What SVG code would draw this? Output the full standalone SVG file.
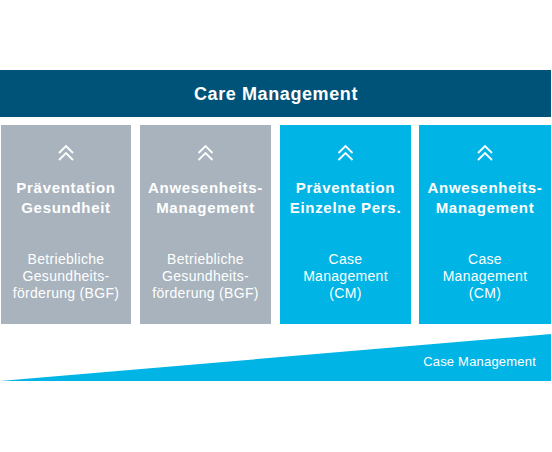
<svg xmlns="http://www.w3.org/2000/svg" width="552" height="452" viewBox="0 0 552 452">
<style>
.t{font-family:"Liberation Sans",Arial,sans-serif;font-weight:bold;font-size:15px;fill:#fff;text-anchor:middle;letter-spacing:0.7px}
.s{font-family:"Liberation Sans",Arial,sans-serif;font-size:14px;fill:#fff;text-anchor:middle;letter-spacing:0.3px}
.g{fill:#A8B3BD}
.b{fill:#00B5E6}
.ch{fill:none;stroke:#fff;stroke-width:1.8}
</style>
<defs>
<path id="chev" class="ch" d="M-7,6 L0,-1 L7,6 M-7,13 L0,6 L7,13"/>
</defs>
<rect width="552" height="452" fill="#fff"/>
<g id="top">
<rect x="0" y="70" width="551" height="47" fill="#005378"/>
<text x="276" y="100" font-family="Liberation Sans,Arial,sans-serif" font-weight="bold" font-size="18" fill="#fff" text-anchor="middle" letter-spacing="0.6">Care Management</text>
</g>
<g id="box1">
<rect class="g" x="1" y="125" width="130" height="199"/>
<use href="#chev" x="66" y="147"/>
<text class="t" x="66" y="193">Präventation</text>
<text class="t" x="66" y="213">Gesundheit</text>
<text class="s" x="66" y="264">Betriebliche</text>
<text class="s" x="66" y="281">Gesundheits-</text>
<text class="s" x="66" y="298">förderung (BGF)</text>
</g>
<g id="box2">
<rect class="g" x="140" y="125" width="131" height="199"/>
<use href="#chev" x="205.5" y="147"/>
<text class="t" x="205.5" y="193">Anwesenheits-</text>
<text class="t" x="205.5" y="213">Management</text>
<text class="s" x="205.5" y="264">Betriebliche</text>
<text class="s" x="205.5" y="281">Gesundheits-</text>
<text class="s" x="205.5" y="298">förderung (BGF)</text>
</g>
<g id="box3">
<rect class="b" x="280" y="125" width="131" height="199"/>
<use href="#chev" x="345.5" y="147"/>
<text class="t" x="345.5" y="193">Präventation</text>
<text class="t" x="345.5" y="213">Einzelne Pers.</text>
<text class="s" x="345.5" y="264">Case</text>
<text class="s" x="345.5" y="281">Management</text>
<text class="s" x="345.5" y="298">(CM)</text>
</g>
<g id="box4">
<rect class="b" x="419" y="125" width="132" height="199"/>
<use href="#chev" x="485" y="147"/>
<text class="t" x="485" y="193">Anwesenheits-</text>
<text class="t" x="485" y="213">Management</text>
<text class="s" x="485" y="264">Case</text>
<text class="s" x="485" y="281">Management</text>
<text class="s" x="485" y="298">(CM)</text>
</g>
<g id="wedge">
<polygon class="b" points="0,381 551,334 551,381"/>
<text class="s" x="536" y="366" style="text-anchor:end;font-size:13px;letter-spacing:0.2px">Case Management</text>
</g>
</svg>
